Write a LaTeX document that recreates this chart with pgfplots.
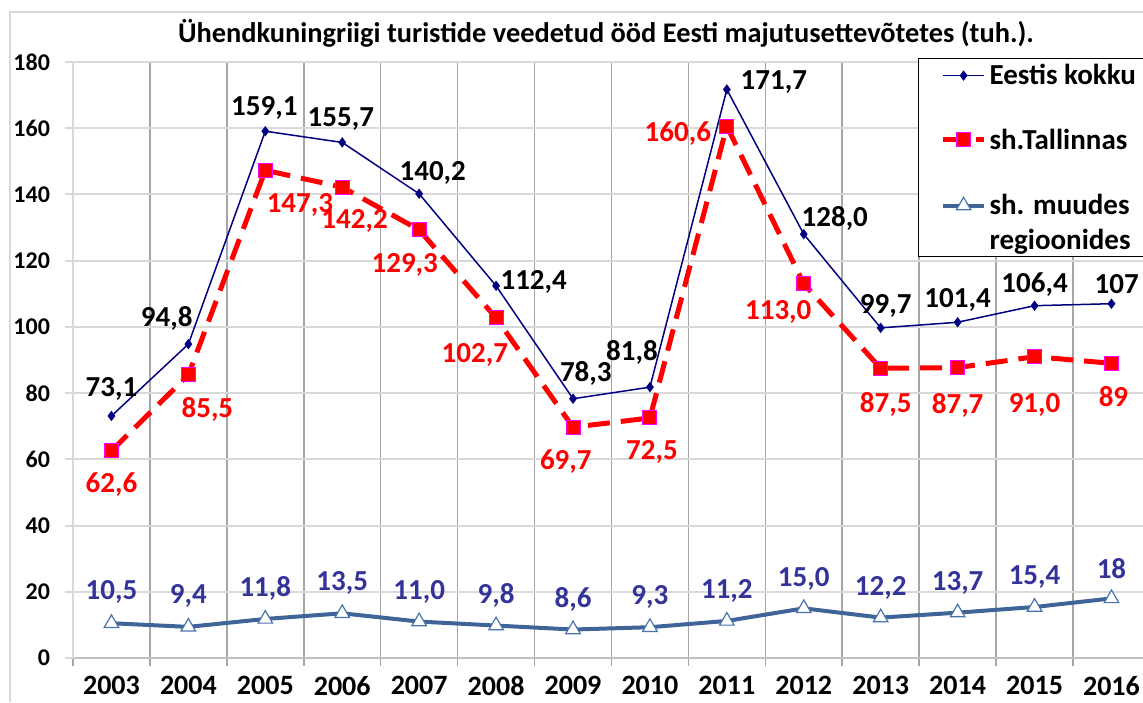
\documentclass[border=0pt]{standalone}
\usepackage{pgfplots}
\usepackage{pgfplotstable}
\pgfplotsset{compat=1.18}
\usepackage{fontspec}
\setmainfont{Carlito}
\definecolor{navyc}{HTML}{000080}
\definecolor{redc}{HTML}{FF0000}
\definecolor{magc}{HTML}{FF00FF}
\definecolor{steelc}{HTML}{3F6598}
\definecolor{trib}{HTML}{4A73AE}
\definecolor{lblue}{HTML}{333399}
\definecolor{hgrid}{HTML}{D9D9D9}
\definecolor{vgrid}{HTML}{A6A6A6}
\definecolor{bline}{HTML}{C0C0C0}

\pgfplotstableread{
i tot tal reg
0 73.1 62.6 10.5
1 94.8 85.5 9.4
2 159.1 147.3 11.8
3 155.7 142.2 13.5
4 140.2 129.3 11.0
5 112.4 102.7 9.8
6 78.3 69.7 8.6
7 81.8 72.5 9.3
8 171.7 160.6 11.2
9 128.0 113.0 15.0
10 99.7 87.5 12.2
11 101.4 87.7 13.7
12 106.4 91.0 15.4
13 107 89 18
}\datatable

\newcommand{\lblfont}{\bfseries\fontsize{14.5}{17}\selectfont}
\newcommand{\lb}[6]{\node[text=#6,font=\lblfont,inner sep=0pt,anchor=center,xshift=#3pt,yshift=#4pt] at (axis cs:#1,#2) {#5};}

\begin{document}
\begin{tikzpicture}
\path[use as bounding box] (-36.5pt,-22pt) rectangle (535pt,329pt);
\begin{axis}[
  at={(0pt,0pt)}, anchor=south west,
  width=535pt, height=298pt, scale only axis,
  xmin=-0.5, xmax=13.41, ymin=0, ymax=180,
  axis x line*=bottom, axis y line*=left,
  x axis line style={-, draw=bline, line width=1.3pt},
  y axis line style={-, draw=hgrid, line width=1pt},
  xtick={-0.5,0.5,...,12.5},
  xticklabels={2003,2004,2005,2006,2007,2008,2009,2010,2011,2012,2013,2014,2015,2016},
  ytick={0,20,...,180},
  tick align=outside,
  major tick length=4pt,
  xtick style={draw=vgrid, line width=0.75pt},
  ytick style={draw=hgrid, line width=1pt},
  grid=major,
  every major grid/.style={},
  every axis x grid/.style={draw=vgrid, line width=0.75pt},
  every axis y grid/.style={draw=hgrid, line width=1pt},
  /pgf/number format/assume math mode=true,
  xticklabel style={font=\bfseries\fontsize{14}{17}\selectfont, xshift=19.23pt, yshift=-1.5pt},
  yticklabel style={font=\bfseries\fontsize{12}{14}\selectfont, xshift=-4pt},
  legend style={at={(0.7897,1.0067)}, anchor=north west, draw=black, line width=0.6pt, fill=white,
    font=\lblfont, row sep=0pt, inner xsep=11pt, inner ysep=0pt,
    nodes={inner xsep=1.5pt, inner ysep=0pt, text depth=, text height=}},
  legend cell align=left,
  legend image code/.code={\draw[mark repeat=2,mark phase=2] plot coordinates {(0cm,0cm) (0.36cm,0cm) (0.72cm,0cm)};},
]
\addplot[navyc, line width=0.75pt, mark=diamond*, mark size=2pt, mark options={fill=navyc, draw=navyc}]
  table[x=i,y=tot]{\datatable};
\addlegendentry{\rule[-4pt]{0pt}{17pt}Eestis kokku}
\addplot[redc, line width=2.5pt, dash pattern=on 11pt off 5.5pt, mark=square*, mark size=3.5pt,
  mark options={solid, fill=redc, draw=magc, line width=0.5pt}]
  table[x=i,y=tal]{\datatable};
\addlegendentry{\rule[-18.5pt]{0pt}{47pt}sh.Tallinnas}
\addplot[steelc, line width=2pt, mark=triangle*, mark size=4.2pt,
  mark options={fill=white, draw=trib, line width=0.6pt}]
  table[x=i,y=reg]{\datatable};
\addlegendentry{\rule[-5pt]{0pt}{19pt}sh. muudes}
\addlegendimage{empty legend}
\addlegendentry{\rule[-3.5pt]{0pt}{16pt}regioonides}

% Eestis kokku labels
\lb{0}{73.1}{0}{13.5}{73,1}{black}
\lb{1}{94.8}{-10.8}{13}{94,8}{black}
\lb{2}{159.1}{-0.5}{11.5}{159,1}{black}
\lb{3}{155.7}{-0.7}{11.7}{155,7}{black}
\lb{4}{140.2}{6.8}{10.5}{140,2}{black}
\lb{5}{112.4}{18.8}{2}{112,4}{black}
\lb{6}{78.3}{6.4}{12.8}{78,3}{black}
\lb{7}{81.8}{-9}{17.6}{81,8}{black}
\lb{8}{171.7}{23.5}{3.5}{171,7}{black}
\lb{9}{128.0}{15.5}{8}{128,0}{black}
\lb{10}{99.7}{2.5}{11}{99,7}{black}
\lb{11}{101.4}{0}{11}{101,4}{black}
\lb{12}{106.4}{0}{10.8}{106,4}{black}
\lb{13}{107}{2.6}{9.9}{107}{black}
% Tallinn labels
\lb{0}{62.6}{0}{-17}{62,6}{redc}
\lb{1}{85.5}{9.5}{-17.5}{85,5}{redc}
\lb{2}{147.3}{17.3}{-17.3}{147,3}{redc}
\lb{3}{142.2}{6.2}{-16.9}{142,2}{redc}
\lb{4}{129.3}{-7.2}{-17.5}{129,3}{redc}
\lb{5}{102.7}{-10.6}{-18.5}{102,7}{redc}
\lb{6}{69.7}{-3.6}{-17.4}{69,7}{redc}
\lb{7}{72.5}{1}{-17}{72,5}{redc}
\lb{8}{160.6}{-24.5}{-3.5}{160,6}{redc}
\node[text=redc,font=\lblfont,inner sep=0pt,anchor=north east,xshift=4pt,yshift=-8pt] at (axis cs:9,113.0) {113,0};
\lb{10}{87.5}{2.5}{-18.3}{87,5}{redc}
\lb{11}{87.7}{0}{-18.7}{87,7}{redc}
\lb{12}{91.0}{0}{-24}{91,0}{redc}
\lb{13}{89}{1}{-16.4}{89}{redc}
% regions labels
\lb{0}{10.5}{0}{15.5}{10,5}{lblue}
\lb{1}{9.4}{0}{15.5}{9,4}{lblue}
\lb{2}{11.8}{0}{15}{11,8}{lblue}
\lb{3}{13.5}{0}{15}{13,5}{lblue}
\lb{4}{11.0}{0}{15}{11,0}{lblue}
\lb{5}{9.8}{0}{15}{9,8}{lblue}
\lb{6}{8.6}{0}{15}{8,6}{lblue}
\lb{7}{9.3}{0}{15}{9,3}{lblue}
\lb{8}{11.2}{0}{15}{11,2}{lblue}
\lb{9}{15.0}{0}{14.5}{15,0}{lblue}
\lb{10}{12.2}{0}{14.8}{12,2}{lblue}
\lb{11}{13.7}{0}{15}{13,7}{lblue}
\lb{12}{15.4}{0}{15}{15,4}{lblue}
\lb{13}{18}{0}{15}{18}{lblue}
\end{axis}
\draw[draw=hgrid, line width=0.75pt] (-31.5pt,-22pt) -- (-31.5pt,323pt) -- (540pt,323pt);
\node[font=\bfseries\fontsize{14.2}{16}\selectfont, anchor=center] at (266.5pt,312.5pt)
  {Ühendkuningriigi turistide veedetud ööd Eesti majutusettevõtetes (tuh.).};
\end{tikzpicture}
\end{document}
